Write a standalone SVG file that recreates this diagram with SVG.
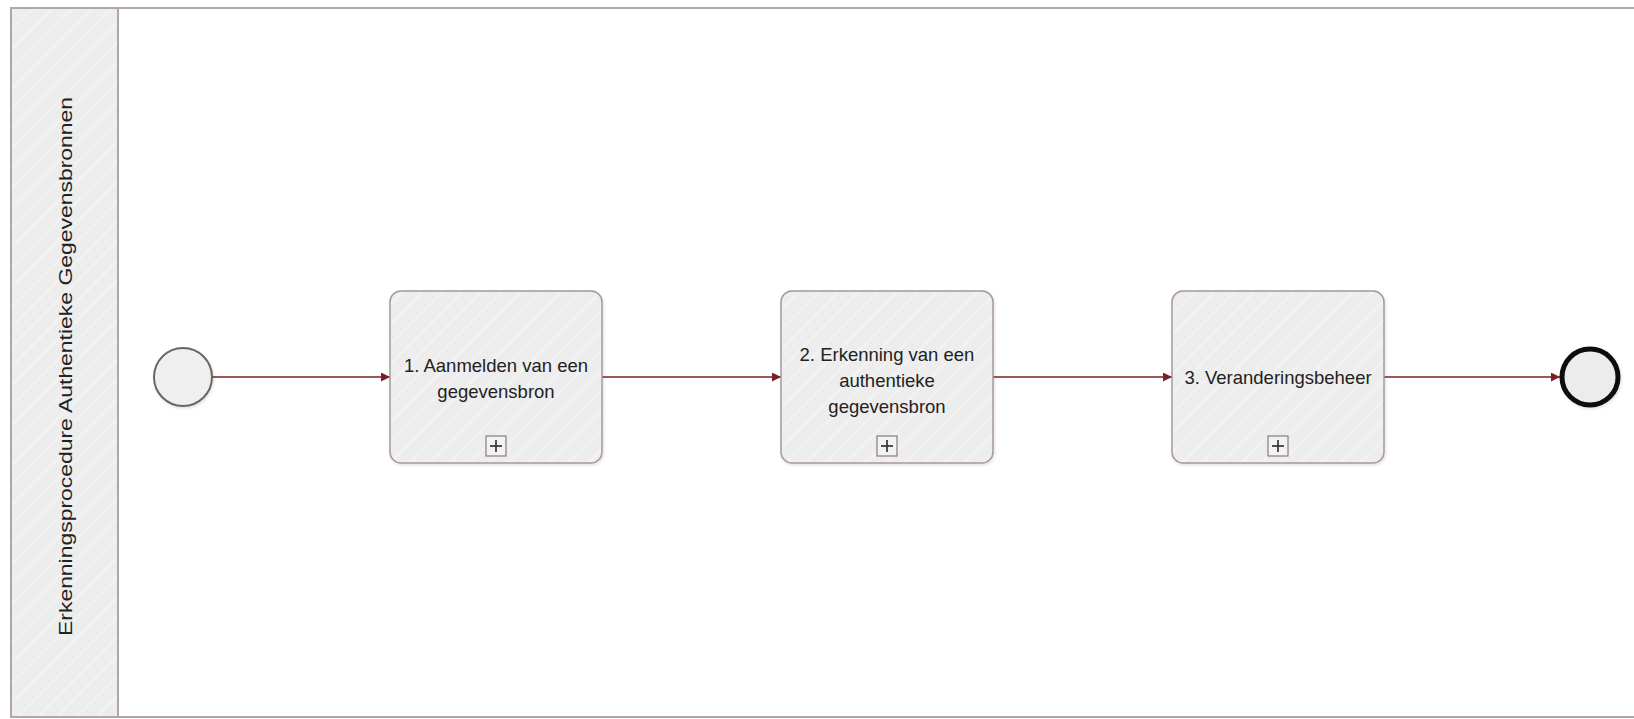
<svg xmlns="http://www.w3.org/2000/svg" width="1634" height="719" viewBox="0 0 1634 719">
  <style>
    .task { fill: url(#hatch); stroke: #a89898; stroke-width: 1.5; }
    .label { font-family: "Liberation Sans", Arial, sans-serif; font-size: 18.5px; fill: #222; text-anchor: middle; }
    .flow { stroke: #7b1f24; stroke-width: 1.6; fill: none; marker-end: url(#arrow); }
    .marker-box { fill: #f2f2f2; stroke: #8a7a7a; stroke-width: 1.2; }
    .plus { stroke: #333; stroke-width: 1.7; }
  </style>
  <defs>
    <pattern id="hatch" patternUnits="userSpaceOnUse" width="14" height="14" patternTransform="rotate(45)">
      <rect width="14" height="14" fill="#ededed"/>
      <line x1="0" y1="0" x2="0" y2="14" stroke="#f2f2f2" stroke-width="5"/>
    </pattern>
    <marker id="arrow" viewBox="0 0 10 10" refX="10" refY="5" markerWidth="10" markerHeight="9" orient="auto" markerUnits="userSpaceOnUse">
      <path d="M0,0 L10,5 L0,10 z" fill="#7b1f24"/>
    </marker>
    <filter id="shadow" x="-10%" y="-10%" width="130%" height="130%">
      <feDropShadow dx="1" dy="1.5" stdDeviation="1.5" flood-color="#000" flood-opacity="0.12"/>
    </filter>
  </defs>

  <rect width="1634" height="719" fill="#ffffff"/>

  <g id="pool">
    <rect x="11" y="8" width="1640" height="709" fill="#ffffff" stroke="#b3a5a5" stroke-width="2"/>
    <rect x="11" y="8" width="107" height="709" fill="url(#hatch)" stroke="#b3a5a5" stroke-width="2"/>
    <text class="label" x="0" y="0" transform="translate(72,366.5) rotate(-90)" font-size="20.5" textLength="539" lengthAdjust="spacingAndGlyphs">Erkenningsprocedure Authentieke Gegevensbronnen</text>
  </g>

  <g id="connectors">
    <line class="flow" x1="212" y1="377" x2="390" y2="377"/>
    <line class="flow" x1="602" y1="377" x2="781" y2="377"/>
    <line class="flow" x1="993" y1="377" x2="1172" y2="377"/>
    <line class="flow" x1="1384" y1="377" x2="1560" y2="377"/>
  </g>

  <g id="start">
    <circle cx="183" cy="377" r="29" fill="#efefef" stroke="#6e6464" stroke-width="2" filter="url(#shadow)"/>
  </g>

  <g id="task1">
    <rect class="task" x="390" y="291" width="212" height="172" rx="11" filter="url(#shadow)"/>
    <text class="label" x="496" y="372">1. Aanmelden van een</text>
    <text class="label" x="496" y="398">gegevensbron</text>
    <rect class="marker-box" x="486" y="436" width="20" height="20"/>
    <line class="plus" x1="490" y1="446" x2="502" y2="446"/>
    <line class="plus" x1="496" y1="440" x2="496" y2="452"/>
  </g>

  <g id="task2">
    <rect class="task" x="781" y="291" width="212" height="172" rx="11" filter="url(#shadow)"/>
    <text class="label" x="887" y="361">2. Erkenning van een</text>
    <text class="label" x="887" y="387">authentieke</text>
    <text class="label" x="887" y="413">gegevensbron</text>
    <rect class="marker-box" x="877" y="436" width="20" height="20"/>
    <line class="plus" x1="881" y1="446" x2="893" y2="446"/>
    <line class="plus" x1="887" y1="440" x2="887" y2="452"/>
  </g>

  <g id="task3">
    <rect class="task" x="1172" y="291" width="212" height="172" rx="11" filter="url(#shadow)"/>
    <text class="label" x="1278" y="384">3. Veranderingsbeheer</text>
    <rect class="marker-box" x="1268" y="436" width="20" height="20"/>
    <line class="plus" x1="1272" y1="446" x2="1284" y2="446"/>
    <line class="plus" x1="1278" y1="440" x2="1278" y2="452"/>
  </g>

  <g id="end">
    <circle cx="1590" cy="377" r="28" fill="#ececec" stroke="#111" stroke-width="5" filter="url(#shadow)"/>
  </g>
</svg>
